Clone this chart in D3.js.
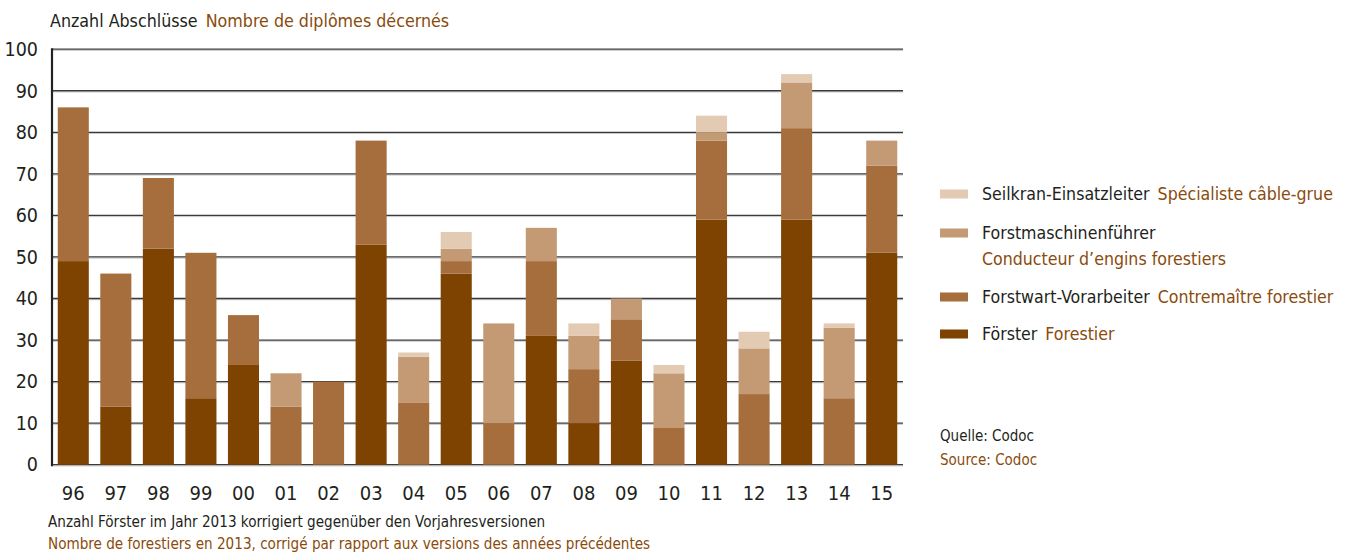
<!DOCTYPE html>
<html><head><meta charset="utf-8">
<script src="https://cdn.jsdelivr.net/npm/d3@7"></script>
<style>
body{margin:0;background:#fff;}
svg text{font-family:"Liberation Sans Narrow","DejaVu Sans Condensed","Roboto",sans-serif;}
</style></head>
<body>
<svg id="c" width="1346" height="554"></svg>
<script>
const years = ["96","97","98","99","00","01","02","03","04","05","06","07","08","09","10","11","12","13","14","15"];
const foerster        = [49,14,52,16,24,0,0,53,0,46,0,31,10,25,0,59,0,59,0,51];
const forstwart       = [37,32,17,35,12,14,20,25,15,3,10,18,13,10,9,19,17,22,16,21];
const forstmaschinen  = [0,0,0,0,0,8,0,0,11,3,24,8,8,5,13,2,11,11,17,6];
const seilkran        = [0,0,0,0,0,0,0,0,1,4,0,0,3,0,2,4,4,2,1,0];
const yTicks = [0,10,20,30,40,50,60,70,80,90,100];

const seriesDef = [
  {key:"foerster", values:foerster, color:"#7e4300", de:"Förster", fr:"Forestier"},
  {key:"forstwart", values:forstwart, color:"#a56e3c", de:"Forstwart-Vorarbeiter", fr:"Contremaître forestier"},
  {key:"forstmaschinen", values:forstmaschinen, color:"#c49a74", de:"Forstmaschinenführer", fr:"Conducteur d’engins forestiers"},
  {key:"seilkran", values:seilkran, color:"#e2cab3", de:"Seilkran-Einsatzleiter", fr:"Spécialiste câble-grue"}
];

const DARK = "#231f20", BROWN = "#8a4b0c";
const svg = d3.select("#c");
const x = d3.scaleBand().domain(years).range([52,903]).paddingInner(0.27).paddingOuter(0.135);
const y = d3.scaleLinear().domain([0,100]).range([464.7,49.2]);

const rows = years.map((yr,i)=>{const o={year:yr}; seriesDef.forEach(s=>o[s.key]=s.values[i]); return o;});
const stack = d3.stack().keys(seriesDef.map(s=>s.key))(rows);

// gridlines
const grid = svg.append("g");
yTicks.forEach(t=>{
  grid.append("line").attr("x1",52).attr("x2",903).attr("y1",y(t)+1.2).attr("y2",y(t)+1.2)
    .attr("stroke","#c8c8c8").attr("stroke-width",1);
  grid.append("line").attr("x1",52).attr("x2",903).attr("y1",y(t)).attr("y2",y(t))
    .attr("stroke","#3a3a3a").attr("stroke-width",1.3);
});

// bars
stack.forEach((layer,li)=>{
  svg.append("g").attr("fill",seriesDef[li].color)
    .selectAll("rect").data(layer.filter(d=>d[1]>d[0])).join("rect")
    .attr("x",d=>x(d.data.year)).attr("width",x.bandwidth())
    .attr("y",d=>y(d[1])).attr("height",d=>y(d[0])-y(d[1]));
});

// left axis line
svg.append("line").attr("x1",52).attr("x2",52).attr("y1",y(100)-1).attr("y2",y(0)+1.5)
  .attr("stroke","#222").attr("stroke-width",2.2);

// y axis labels
const yAxis = d3.axisLeft(y).tickValues(yTicks).tickSize(0).tickPadding(14);
const ya = svg.append("g").attr("transform","translate(52,0)").call(yAxis);
ya.select(".domain").remove();
ya.selectAll("text").attr("font-size",19.5).attr("fill",DARK)
  .style("font-family",'"Liberation Sans Narrow","DejaVu Sans Condensed",sans-serif');

// x axis labels
const xAxis = d3.axisBottom(x).tickSize(0).tickPadding(0);
const xa = svg.append("g").attr("transform","translate(0,486)").call(xAxis);
xa.select(".domain").remove();
xa.selectAll("text").attr("font-size",20).attr("fill",DARK).attr("dy","0.71em")
  .style("font-family",'"Liberation Sans Narrow","DejaVu Sans Condensed",sans-serif');

// title
const title = svg.append("text").attr("x",50).attr("y",27).attr("font-size",17.7);
title.append("tspan").attr("fill",DARK).text("Anzahl Abschlüsse");
title.append("tspan").attr("fill",BROWN).attr("dx",8).text("Nombre de diplômes décernés");

// legend
const legendRows = [
  {s:3, y:194, two:false},
  {s:2, y:233, two:true},
  {s:1, y:297, two:false},
  {s:0, y:334, two:false}
];
const lg = svg.append("g");
legendRows.forEach(r=>{
  const s = seriesDef[r.s];
  lg.append("rect").attr("x",940).attr("y",r.y-4.5).attr("width",28).attr("height",9).attr("fill",s.color);
  const t = lg.append("text").attr("x",982).attr("y",r.y+6).attr("font-size",17.6);
  t.append("tspan").attr("fill",DARK).text(s.de);
  if(r.two){
    lg.append("text").attr("x",982).attr("y",r.y+32).attr("font-size",17.6).attr("fill",BROWN).text(s.fr);
  } else {
    t.append("tspan").attr("fill",BROWN).attr("dx",8).text(s.fr);
  }
});

// source
svg.append("text").attr("x",940).attr("y",441).attr("font-size",15).attr("fill",DARK).text("Quelle: Codoc");
svg.append("text").attr("x",940).attr("y",465).attr("font-size",15).attr("fill",BROWN).text("Source: Codoc");

// footnote
svg.append("text").attr("x",48).attr("y",527).attr("font-size",15.1).attr("fill",DARK)
  .text("Anzahl Förster im Jahr 2013 korrigiert gegenüber den Vorjahresversionen");
svg.append("text").attr("x",48).attr("y",549).attr("font-size",15.1).attr("fill",BROWN)
  .text("Nombre de forestiers en 2013, corrigé par rapport aux versions des années précédentes");
</script>
</body></html>
